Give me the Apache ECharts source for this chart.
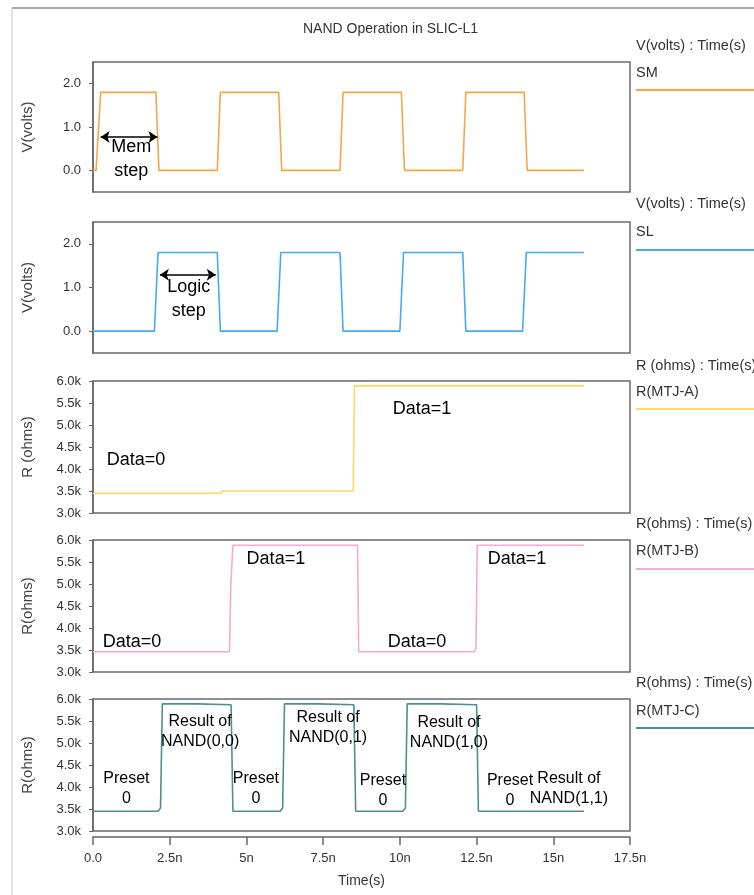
<!DOCTYPE html>
<html><head><meta charset="utf-8">
<script src="https://cdn.jsdelivr.net/npm/echarts@6/dist/echarts.min.js"></script>
<style>html,body{margin:0;padding:0;background:#fff}#c{width:754px;height:895px}</style>
</head><body><div id="c"></div>
<script>
// ---- data (time in ns) ----
const xTickLabels = ["0.0","2.5n","5n","7.5n","10n","12.5n","15n","17.5n"];
const voltTicks = [0, 1, 2];

const smTime  = [0,0.1,0.25,2.05,2.15,4.05,4.15,6.05,6.15,8.05,8.15,10.05,10.15,12.05,12.15,14.05,14.15,16];
const smVolts = [0,0,1.8,1.8,0,0,1.8,1.8,0,0,1.8,1.8,0,0,1.8,1.8,0,0];

const slTime  = [0,2.0,2.12,4.05,4.15,6.0,6.12,8.05,8.15,10.0,10.12,12.05,12.15,14.0,14.12,16];
const slVolts = [0,0,1.8,1.8,0,0,1.8,1.8,0,0,1.8,1.8,0,0,1.8,1.8];

const mtjATime = [0,4.2,4.2,8.48,8.52,16];
const mtjAOhms = [3450,3450,3500,3500,5890,5890];

const mtjBTime = [0,4.45,4.49,4.53,4.56,8.62,8.66,12.42,12.48,12.52,16];
const mtjBOhms = [3460,3460,4980,5000,5880,5880,3460,3460,3520,5880,5880];

const mtjCTime = [0,2.12,2.2,2.26,3.4,3.42,4.5,4.56,6.1,6.18,6.24,7.33,7.35,8.5,8.56,10.1,10.18,10.24,11.35,11.37,12.5,12.56,16];
const mtjCOhms = [3450,3450,3520,5890,5890,5870,5870,3450,3450,3520,5890,5890,5870,5870,3450,3450,3520,5890,5890,5870,5870,3450,3450];

// annotations (data coordinates)
const smNotes = [{t:1.25, v:0.27, text:"Mem\nstep"}];
const smArrows = [{t0:0.25, t1:2.1, v:0.77}];
const slNotes = [{t:3.12, v:0.74, text:"Logic\nstep"}];
const slArrows = [{t0:2.18, t1:4.0, v:1.29}];
const aNotes = [{t:1.4, v:4205, text:"Data=0"},{t:10.72, v:5364, text:"Data=1"}];
const bNotes = [{t:5.96, v:5568, text:"Data=1"},{t:1.27, v:3675, text:"Data=0"},{t:10.56, v:3675, text:"Data=0"},{t:13.82, v:5568, text:"Data=1"}];
const cNotes = [
  {t:3.49, v:5257, text:"Result of\nNAND(0,0)"},
  {t:1.09, v:3955, text:"Preset\n0"},
  {t:5.31, v:3955, text:"Preset\n0"},
  {t:7.66, v:5341, text:"Result of\nNAND(0,1)"},
  {t:9.45, v:3909, text:"Preset\n0"},
  {t:11.6, v:5227, text:"Result of\nNAND(1,0)"},
  {t:13.59, v:3909, text:"Preset\n0"},
  {t:15.51, v:3955, text:"Result of\nNAND(1,1)"}
];

// ---- chart ----
const FONT = "'Liberation Sans', Arial, sans-serif";
const AX = '#666';
const grids = [
  {top:62, height:130},
  {top:222, height:131},
  {top:381, height:132},
  {top:540, height:132},
  {top:699, height:132}
].map(g => ({left:93, width:537, top:g.top, height:g.height, show:true, borderColor:'#6a6a6a', borderWidth:1.5, backgroundColor:'#fff'}));

function zip(t, v){ return t.map((x,i)=>[x, v[i]]); }

function yV(i){
  return {gridIndex:i, type:'value', min:-0.5, max:2.5, offset:3,
    name:'V(volts)', nameLocation:'middle', nameGap:55, nameRotate:90,
    nameTextStyle:{fontSize:15, color:'#444', fontFamily:FONT},
    axisLine:{show:true, lineStyle:{color:AX, width:1.5}},
    axisTick:{show:true, length:4, customValues:voltTicks, lineStyle:{color:AX}},
    axisLabel:{customValues:voltTicks, formatter:v=>v.toFixed(1), margin:9, fontSize:13, color:'#333', fontFamily:FONT},
    splitLine:{show:false}};
}
function yR(i, name){
  return {gridIndex:i, type:'value', min:3000, max:6000, interval:500, offset:3,
    name:name, nameLocation:'middle', nameGap:55, nameRotate:90,
    nameTextStyle:{fontSize:15, color:'#444', fontFamily:FONT},
    axisLine:{show:true, lineStyle:{color:AX, width:1.5}},
    axisTick:{show:true, length:4, lineStyle:{color:AX}},
    axisLabel:{formatter:v=>(v/1000).toFixed(1)+'k', margin:9, fontSize:13, color:'#333', fontFamily:FONT},
    splitLine:{show:false}};
}
function xHidden(i){ return {gridIndex:i, type:'value', min:0, max:17.5, show:false}; }

function series(i, name, t, v, color, notes, arrows, fs, lh){
  const s = {type:'line', name, xAxisIndex:i, yAxisIndex:i, data:zip(t,v),
    showSymbol:false, symbol:'none', silent:true, animation:false,
    lineStyle:{color, width:1.6}, itemStyle:{color},
    markPoint:{symbol:'circle', symbolSize:0, silent:true, animation:false,
      label:{show:true, position:'inside', color:'#000', fontSize:fs, lineHeight:lh, fontFamily:FONT},
      data:notes.map(n=>({coord:[n.t, n.v], value:0, label:{formatter:n.text}}))}
  };
  if (arrows && arrows.length){
    s.markLine = {silent:true, animation:false, symbol:['arrow','arrow'], symbolSize:[9,9],
      lineStyle:{color:'#000', width:1.5, type:'solid'}, label:{show:false},
      data:arrows.map(a=>[{coord:[a.t0,a.v]},{coord:[a.t1,a.v]}])};
  }
  return s;
}

const colors = {sm:'#f8a445', sl:'#45aaf2', a:'#fdd866', b:'#f9a8d4', c:'#4d9090'};

function headerText(x, y, txt){
  return {type:'text', left:x, top:y, style:{text:txt, fill:'#333', font:'14.5px '+FONT, textVerticalAlign:'middle'}};
}
function legendLine(y, color){
  return {type:'line', shape:{x1:636, y1:y, x2:754, y2:y}, style:{stroke:color, lineWidth:1.8}};
}

const option = {
  animation:false,
  backgroundColor:'#fff',
  title:{text:'NAND Operation in SLIC-L1', left:298, top:17,
    textStyle:{fontSize:14, fontWeight:'normal', color:'#333', fontFamily:FONT}},
  grid:grids,
  xAxis:[xHidden(0), xHidden(1), xHidden(2), xHidden(3),
    {gridIndex:4, type:'value', min:0, max:17.5, interval:2.5, offset:6,
     name:'Time(s)', nameLocation:'middle', nameGap:37,
     nameTextStyle:{fontSize:14, color:'#333', fontFamily:FONT},
     axisLine:{show:true, lineStyle:{color:AX, width:1.5}},
     axisTick:{show:true, length:8, lineStyle:{color:AX, width:1.5}},
     axisLabel:{formatter:v=>xTickLabels[Math.round(v/2.5)], margin:15, fontSize:13, color:'#333', fontFamily:FONT},
     splitLine:{show:false}}],
  yAxis:[yV(0), yV(1), yR(2,'R (ohms)'), yR(3,'R(ohms)'), yR(4,'R(ohms)')],
  series:[
    series(0,'SM', smTime, smVolts, colors.sm, smNotes, smArrows, 18, 24),
    series(1,'SL', slTime, slVolts, colors.sl, slNotes, slArrows, 18, 24),
    series(2,'R(MTJ-A)', mtjATime, mtjAOhms, colors.a, aNotes, null, 18, 22),
    series(3,'R(MTJ-B)', mtjBTime, mtjBOhms, colors.b, bNotes, null, 18, 22),
    series(4,'R(MTJ-C)', mtjCTime, mtjCOhms, colors.c, cNotes, null, 16, 20)
  ],
  graphic:[
    {type:'line', shape:{x1:12, y1:8, x2:754, y2:8}, style:{stroke:'#8a8a8a', lineWidth:1.5}},
    {type:'line', shape:{x1:12, y1:8, x2:12, y2:895}, style:{stroke:'#d8d8d8', lineWidth:1.5}},
    headerText(636, 38, 'V(volts) : Time(s)'),
    headerText(636, 65, 'SM'),
    legendLine(90, colors.sm),
    headerText(636, 196, 'V(volts) : Time(s)'),
    headerText(636, 224, 'SL'),
    legendLine(250, colors.sl),
    headerText(636, 358, 'R (ohms) : Time(s)'),
    headerText(636, 384, 'R(MTJ-A)'),
    legendLine(409, colors.a),
    headerText(636, 516, 'R(ohms) : Time(s)'),
    headerText(636, 543, 'R(MTJ-B)'),
    legendLine(569, colors.b),
    headerText(636, 675, 'R(ohms) : Time(s)'),
    headerText(636, 703, 'R(MTJ-C)'),
    legendLine(728, colors.c)
  ]
};
const chart = echarts.init(document.getElementById('c'), null, {renderer:'canvas'});
chart.setOption(option);
</script></body></html>
